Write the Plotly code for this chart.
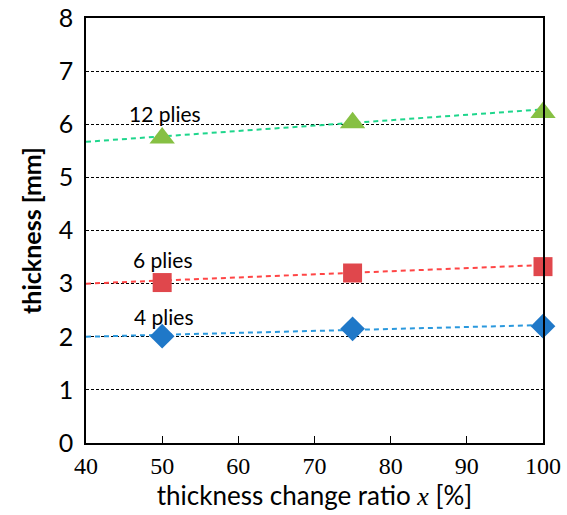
import plotly.graph_objects as go

x_vals = [50, 75, 100]
plies12 = [5.74, 6.03, 6.22]
plies6 = [3.02, 3.20, 3.32]
plies4 = [2.01, 2.15, 2.20]

trend_x = [40, 100]
trend12 = [5.67, 6.28]
trend6 = [3.00, 3.35]
trend4 = [2.00, 2.22]

x_ticks = [40, 50, 60, 70, 80, 90, 100]
y_ticks = [0, 1, 2, 3, 4, 5, 6, 7, 8]

labels = ["12 plies", "6 plies", "4 plies"]
label_x = [50.4, 50.1, 50.2]
label_y = [6.2, 3.45, 2.39]

fig = go.Figure()

series = [
    (trend12, plies12, "#1ed68c", "#86c043", "triangle-up", 22),
    (trend6, plies6, "#ff4545", "#e0474c", "square", 19),
    (trend4, plies4, "#2a98dd", "#1f78c8", "diamond", 19),
]
for tr, vals, lc, mc, sym, sz in series:
    fig.add_trace(go.Scatter(x=trend_x, y=tr, mode="lines",
                             line=dict(color=lc, width=2, dash="5px,4px"),
                             showlegend=False, hoverinfo="skip"))
    fig.add_trace(go.Scatter(x=x_vals, y=vals, mode="markers",
                             marker=dict(color=mc, symbol=sym, size=sz),
                             cliponaxis=False, showlegend=False))

for t, lx, ly in zip(labels, label_x, label_y):
    fig.add_annotation(x=lx, y=ly, text=t, showarrow=False,
                       font=dict(family="Lato", size=21, color="black"))

fig.update_layout(
    width=567, height=515,
    margin=dict(l=86, r=24, t=18, b=72),
    plot_bgcolor="white", paper_bgcolor="white",
    font=dict(family="Lato", color="black"),
)
fig.update_xaxes(
    range=[40, 100], tickvals=x_ticks, ticks="inside", ticklen=7,
    tickcolor="black", tickwidth=1.2, automargin=False,
    showline=True, linecolor="black", linewidth=1.5, mirror=True,
    showgrid=False, zeroline=False,
    tickfont=dict(family="Liberation Serif", size=24),
    title=dict(text='thickness change ratio <span style="font-family:Liberation Serif"><i>x</i></span> [%]',
               font=dict(family="Lato", size=26), standoff=4),
)
fig.update_yaxes(
    range=[0, 8], tickvals=y_ticks, ticks="", automargin=False,
    showline=True, linecolor="black", linewidth=1.5, mirror=True,
    showgrid=True, gridcolor="black", gridwidth=1, griddash="3px,2px",
    zeroline=False,
    tickfont=dict(family="Lato", size=25), ticklabelstandoff=6,
    title=dict(text="<b>thickness [mm]</b>", font=dict(family="Lato", size=25), standoff=10),
)

fig.write_html("out.html")
